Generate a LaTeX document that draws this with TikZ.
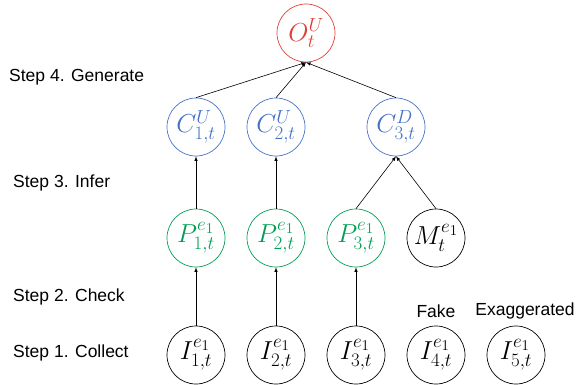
\RequirePackage{fix-cm}
\documentclass[tikz,border=0pt]{standalone}
\usepackage{fontspec}
\setsansfont{Liberation Sans}
\usepackage{amsmath}
\usetikzlibrary{arrows}
\definecolor{outred}{RGB}{224,62,54}
\definecolor{claimblue}{RGB}{68,114,196}
\definecolor{postgreen}{RGB}{0,158,82}
\DeclareMathSizes{26}{26}{19}{15}

\begin{document}
\begin{tikzpicture}[x=1pt, y=-1pt,
		var/.style={circle,draw,line width=0.7pt,minimum size=58pt,inner sep=0pt,font=\fontsize{26}{26}\selectfont},
		steplabel/.style={anchor=west,inner sep=0pt,font=\sffamily\fontsize{17.5}{20}\selectfont},
		tag/.style={inner sep=0pt,font=\sffamily\fontsize{17.5}{20}\selectfont},
		link/.style={->,>=latex,line width=0.6pt}]
		\useasboundingbox (0, 0) rectangle (583, 384);

		\node[steplabel] (step4) at (9, 77) {Step 4. Generate};
		\node[steplabel] (step3) at (13, 183) {Step 3. Infer};
		\node[steplabel] (step2) at (13, 297) {Step 2. Check};
		\node[steplabel] (step1) at (13, 353) {Step 1. Collect};

		\node[var,draw=outred,text=outred] (out) at (306, 33) {$O^{U}_{t}$};

		\node[var,draw=claimblue,text=claimblue] (c1) at (196, 127) {$C^{U}_{1,t}$};
		\node[var,draw=claimblue,text=claimblue] (c2) at (276, 127) {$C^{U}_{2,t}$};
		\node[var,draw=claimblue,text=claimblue] (c3) at (396, 127) {$C^{D}_{3,t}$};

		\node[var,draw=postgreen,text=postgreen] (p1) at (196, 238) {$P^{e_1}_{1,t}$};
		\node[var,draw=postgreen,text=postgreen] (p2) at (276, 238) {$P^{e_1}_{2,t}$};
		\node[var,draw=postgreen,text=postgreen] (p3) at (356, 238) {$P^{e_1}_{3,t}$};
		\node[var] (m) at (436, 238) {$M^{e_1}_{t}$};

		\node[var] (i1) at (196, 355) {$I^{e_1}_{1,t}$};
		\node[var] (i2) at (276, 355) {$I^{e_1}_{2,t}$};
		\node[var] (i3) at (356, 355) {$I^{e_1}_{3,t}$};
		\node[var] (i4) at (436, 355) {$I^{e_1}_{4,t}$};
		\node[var] (i5) at (516, 355) {$I^{e_1}_{5,t}$};

		\node[tag] (fake) at (436, 311) {Fake};
		\node[tag] (exag) at (525, 311) {Exaggerated};

		\draw[link] (c1.north) -- (out.south);
		\draw[link] (c2.north) -- (out.south);
		\draw[link] (c3.north) -- (out.south);

		\draw[link] (p1.north) -- (c1.south);
		\draw[link] (p2.north) -- (c2.south);
		\draw[link] (p3.north) -- (c3.south);
		\draw[link] (m.north) -- (c3.south);

		\draw[link] (i1.north) -- (p1.south);
		\draw[link] (i2.north) -- (p2.south);
		\draw[link] (i3.north) -- (p3.south);
\end{tikzpicture}
\end{document}
